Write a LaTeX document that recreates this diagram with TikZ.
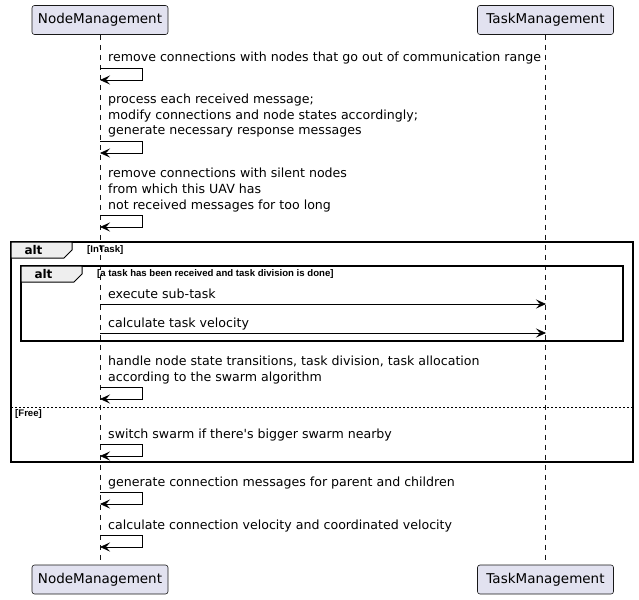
\documentclass[tikz,border=0pt]{standalone}
\usepackage{fontspec}
\setmainfont{DejaVu Sans}
\newfontfamily\guardfont{Liberation Sans}
\usetikzlibrary{arrows.meta}
\usetikzlibrary{positioning}

\definecolor{partfill}{HTML}{E2E2F0}
\definecolor{partdraw}{HTML}{181818}
\definecolor{tabgray}{HTML}{EEEEEE}

\tikzset{
  participant/.style={draw=partdraw, fill=partfill, rounded corners=2.5pt, line width=0.6pt,
    minimum width=136pt, minimum height=29pt, inner sep=0pt, font=\fontsize{13.5}{16}\selectfont},
  lifeline/.style={draw=partdraw, line width=0.5pt, dash pattern=on 5pt off 5pt},
  msg/.style={anchor=south west, inner sep=0pt, align=left, font=\fontsize{12.6}{16}\selectfont},
  guard/.style={anchor=west, inner sep=0pt, font=\guardfont\bfseries\fontsize{9.6}{11}\selectfont},
  altlabel/.style={inner sep=0pt, font=\bfseries\fontsize{12}{14}\selectfont},
  msgarrow/.style={-{Stealth[length=10pt,width=9pt,inset=4pt]}, line width=0.7pt},
  frame/.style={draw=black, line width=1.4pt},
  tab/.style={draw=black, fill=tabgray, line width=1pt},
}

\begin{document}
\begin{tikzpicture}[x=1pt,y=-1pt]
    \useasboundingbox (0,0) rectangle (639,599);

    % Participants, top and bottom
    \node[participant] (nm-top) at (100,20) {NodeManagement};
    \node[participant] (tm-top) at (545.5,20) {TaskManagement};
    \node[participant] (nm-bot) at (100,579.5) {NodeManagement};
    \node[participant] (tm-bot) at (545.5,579.5) {TaskManagement};

    % Lifelines
    \draw[lifeline] (nm-top.south) -- (nm-bot.north);
    \draw[lifeline] (tm-top.south) -- (tm-bot.north);

    % Outer alt frame
    \draw[frame] (11,242) rectangle (633,462);
    \draw[tab] (11,242) -- (72,242) -- (72,250) -- (64,258) -- (11,258) -- cycle;
    \node[altlabel] (alt-outer) at (33.5,250) {alt};
    \node[guard] (g-intask) at (87,250) {[InTask]};
    \draw[black, line width=0.6pt, dash pattern=on 2pt off 2pt] (11,407) -- (633,407);
    \node[guard] (g-free) at (15,414) {[Free]};

    % Inner alt frame
    \draw[frame] (21,266) rectangle (623,341);
    \draw[tab] (21,266) -- (82,266) -- (82,274) -- (74,282) -- (21,282) -- cycle;
    \node[altlabel] (alt-inner) at (43.5,274) {alt};
    \node[guard] (g-task) at (97,274) {[a task has been received and task division is done]};

    % Self messages of NodeManagement
    \node[msg] (m1) at (108,67) {remove connections with nodes that go out of communication range\strut};
    \coordinate (m1out) at (100,68);
    \coordinate (m1in) at (100,80);
    \draw[msgarrow] (m1out) -- ++(42,0) |- (m1in);

    \node[msg] (m2) at (108,140) {process each received message;\\modify connections and node states accordingly;\\generate necessary response messages\strut};
    \coordinate (m2out) at (100,141);
    \coordinate (m2in) at (100,153);
    \draw[msgarrow] (m2out) -- ++(42,0) |- (m2in);

    \node[msg] (m3) at (108,214) {remove connections with silent nodes\\from which this UAV has\\not received messages for too long\strut};
    \coordinate (m3out) at (100,215);
    \coordinate (m3in) at (100,227);
    \draw[msgarrow] (m3out) -- ++(42,0) |- (m3in);

    % Messages to TaskManagement
    \node[msg] (m4) at (108,303) {execute sub-task\strut};
    \coordinate (m4out) at (100,304);
    \coordinate (m4in) at (546,304);
    \draw[msgarrow] (m4out) -- (m4in);

    \node[msg] (m5) at (108,332) {calculate task velocity\strut};
    \coordinate (m5out) at (100,333);
    \coordinate (m5in) at (546,333);
    \draw[msgarrow] (m5out) -- (m5in);

    \node[msg] (m6) at (108,386) {handle node state transitions, task division, task allocation\\according to the swarm algorithm\strut};
    \coordinate (m6out) at (100,387);
    \coordinate (m6in) at (100,399);
    \draw[msgarrow] (m6out) -- ++(42,0) |- (m6in);

    % Free branch
    \node[msg] (m7) at (108,443) {switch swarm if there\textquotesingle s bigger swarm nearby\strut};
    \coordinate (m7out) at (100,444);
    \coordinate (m7in) at (100,456);
    \draw[msgarrow] (m7out) -- ++(42,0) |- (m7in);

    % After the alt frame
    \node[msg] (m8) at (108,491) {generate connection messages for parent and children\strut};
    \coordinate (m8out) at (100,492);
    \coordinate (m8in) at (100,504);
    \draw[msgarrow] (m8out) -- ++(42,0) |- (m8in);

    \node[msg] (m9) at (108,534) {calculate connection velocity and coordinated velocity\strut};
    \coordinate (m9out) at (100,535);
    \coordinate (m9in) at (100,547);
    \draw[msgarrow] (m9out) -- ++(42,0) |- (m9in);

\end{tikzpicture}
\end{document}
